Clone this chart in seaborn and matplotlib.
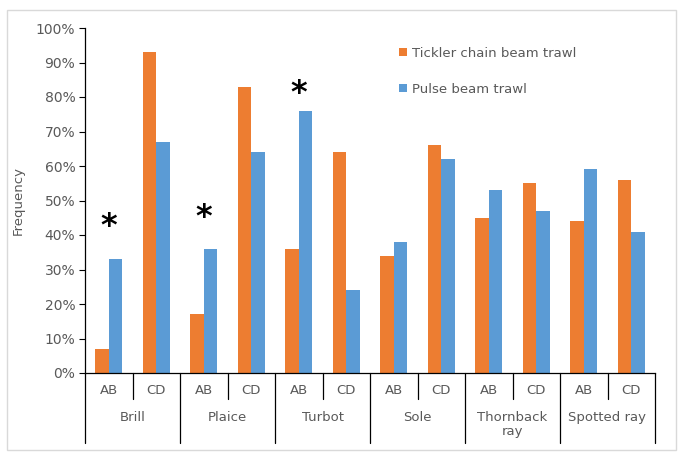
import matplotlib
matplotlib.use("Agg")
import matplotlib.pyplot as plt
import matplotlib.transforms as mtransforms
from matplotlib.patches import Rectangle, Patch
import seaborn as sns
import pandas as pd
import numpy as np

species = ["Brill", "Plaice", "Turbot", "Sole", "Thornback\nray", "Spotted ray"]
areas = ["AB", "CD"]
series_names = ["Tickler chain beam trawl", "Pulse beam trawl"]
tickler = [7, 93, 17, 83, 36, 64, 34, 66, 45, 55, 44, 56]
pulse = [33, 67, 36, 64, 76, 24, 38, 62, 53, 47, 59, 41]
star_idx = [0, 2, 4]
star_vals = [42.5, 45, 81]
yticks = [0, 10, 20, 30, 40, 50, 60, 70, 80, 90, 100]

cats = [f"{s} {a}" for s in species for a in areas]
df = pd.DataFrame({
    "cat": cats * 2,
    "val": [v / 100 for v in tickler] + [v / 100 for v in pulse],
    "series": [series_names[0]] * len(cats) + [series_names[1]] * len(cats),
})

W, H = 679, 455
fig = plt.figure(figsize=(W / 100, H / 100), dpi=100)
sns.set_style("white")
plt.rcParams['font.family'] = ['DejaVu Sans']
left, right, top, bottom = 85, 655, 28, 373
ax = fig.add_axes([left / W, 1 - bottom / H, (right - left) / W, (bottom - top) / H])

colors = {series_names[0]: "#ED7D31", series_names[1]: "#5B9BD5"}
sns.barplot(data=df, x="cat", y="val", hue="series", order=cats, hue_order=series_names,
            palette=colors, width=0.57, ax=ax, legend=False, edgecolor="none", saturation=1)

ax.set_ylim(0, 1)
ax.set_xlim(-0.5, len(cats) - 0.5)
ax.set_yticks([t / 100 for t in yticks])
ax.set_yticklabels([f"{t}%" for t in yticks], color="#595959", fontsize=10)
ax.set_xticks([])
ax.set_xlabel("")
ax.set_ylabel("Frequency", color="#595959", fontsize=9.5)
ax.yaxis.set_label_coords((25 - left) / (right - left), 0.5)
ax.tick_params(axis="y", which="major", length=4, width=0.8, color="black", left=True, pad=3)
for s in ["top", "right"]:
    ax.spines[s].set_visible(False)
for s in ["left", "bottom"]:
    ax.spines[s].set_color("black")
    ax.spines[s].set_linewidth(0.9)

trans = mtransforms.blended_transform_factory(ax.transData, ax.transAxes)
ah = bottom - top
minor_len = 26 / ah
major_len = 70 / ah
for i in range(len(cats) + 1):
    x = i - 0.5
    L = major_len if i % 2 == 0 else minor_len
    ax.plot([x, x], [0, -L], color="black", lw=0.9, transform=trans, clip_on=False)

for i, c in enumerate(cats):
    ax.text(i, -18 / ah, areas[i % 2], transform=trans, ha="center", va="center",
            color="#595959", fontsize=9.5)
for j, s in enumerate(species):
    ax.text(2 * j + 0.5, -(411 - bottom) / ah, s, transform=trans, ha="center", va="top",
            color="#595959", fontsize=9.5, linespacing=1.05)

for i, v in zip(star_idx, star_vals):
    ax.text(i, v / 100, "*", ha="center", va="center", fontsize=23, fontweight="heavy",
            color="black")

handles = [Patch(facecolor=colors[n], edgecolor="none") for n in series_names]
fig.legend(handles, series_names, loc="upper left",
           bbox_to_anchor=(392 / W, 1 - 40 / H), frameon=False, fontsize=9.5,
           labelcolor="#595959", handlelength=0.6, handleheight=0.6,
           handletextpad=0.4, labelspacing=1.75, borderpad=0)

fig.patches.append(Rectangle((7 / W, 1 - 450 / H), (676 - 7) / W, (450 - 10) / H,
                             transform=fig.transFigure, fill=False,
                             edgecolor="#D9D9D9", lw=1))

fig.savefig("out.png", dpi=100)
